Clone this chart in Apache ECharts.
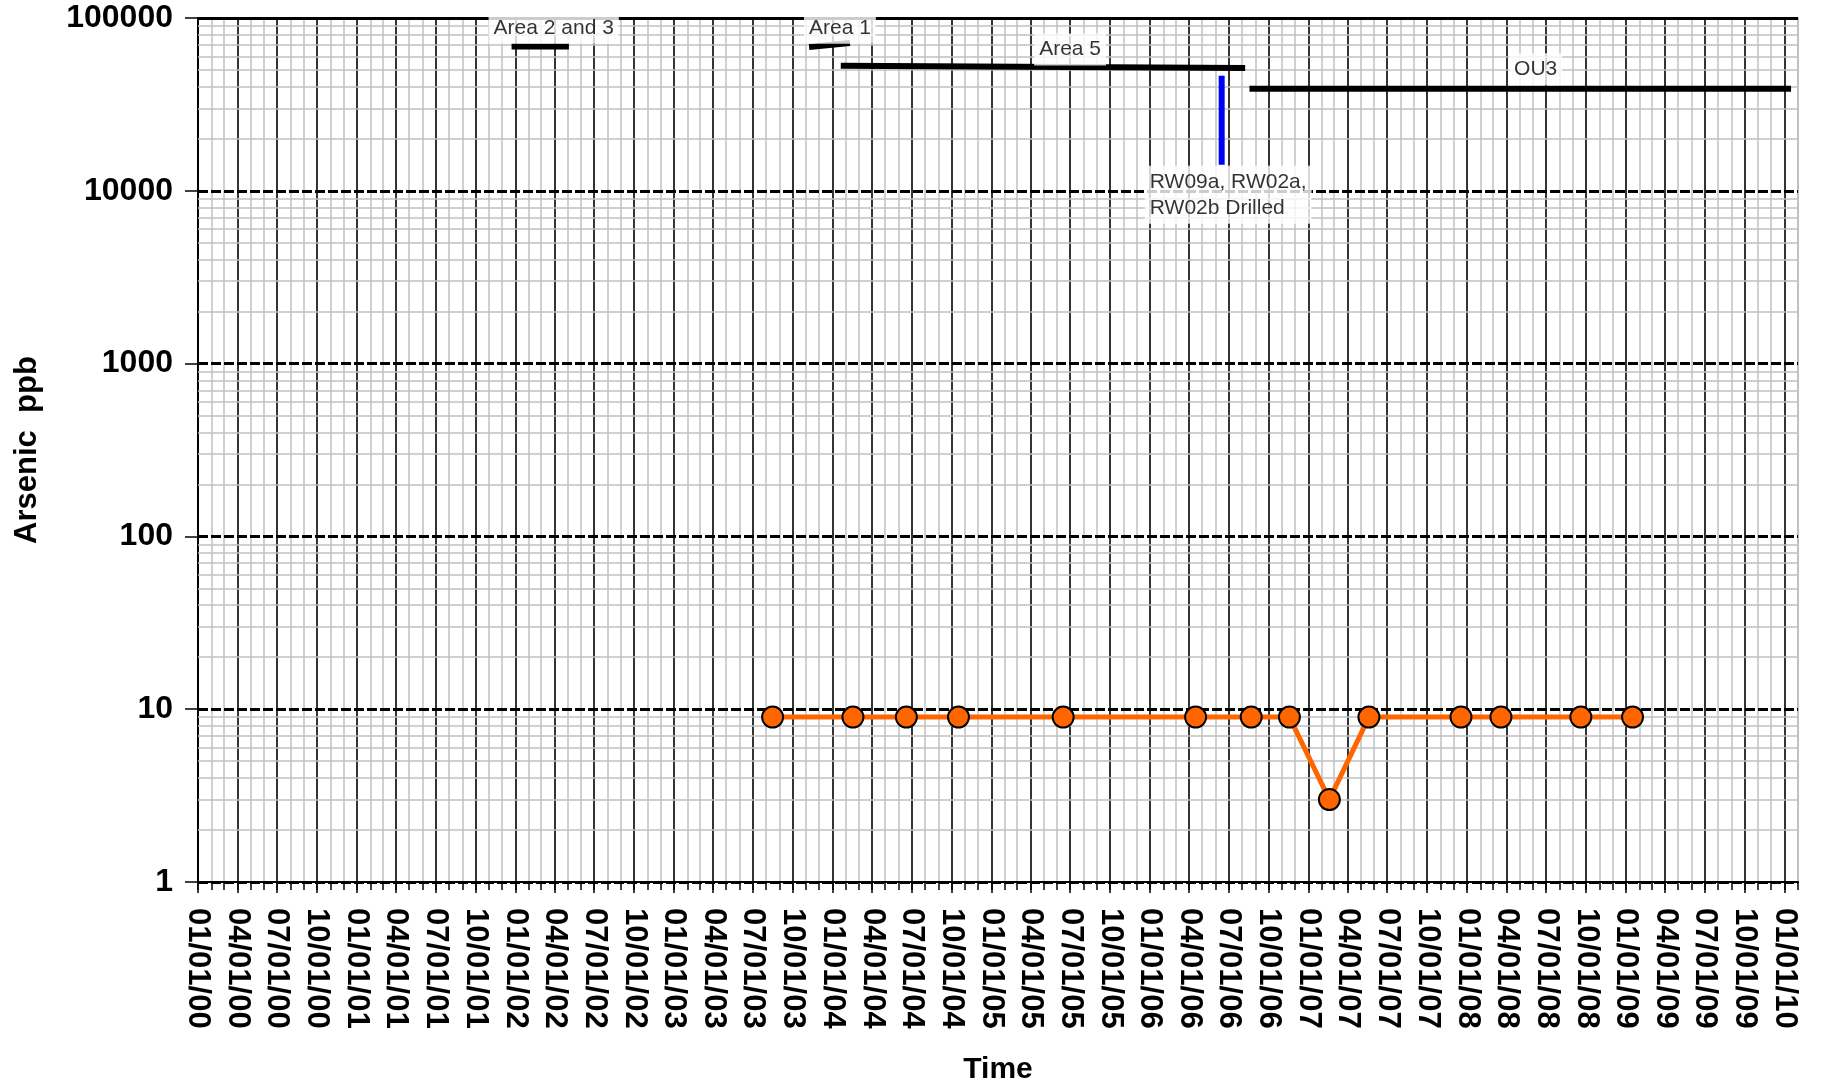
<!DOCTYPE html>
<html><head><meta charset="utf-8">
<script src="https://cdn.jsdelivr.net/npm/echarts@6/dist/echarts.min.js"></script>
<style>html,body{margin:0;padding:0;background:#fff}#c{width:1823px;height:1084px}</style>
</head><body><div id="c"></div>
<script>
// ---- data ----
const sampleDates = ['2003-08-16','2004-02-17','2004-06-19','2004-10-17','2005-06-15','2006-04-16','2006-08-22','2006-11-18','2007-02-18','2007-05-20','2007-12-18','2008-03-19','2008-09-19','2009-01-16'];
const arsenicPpb  = [9,9,9,9,9,9,9,9,3,9,9,9,9,9];

const yTickValues = [1,10,100,1000,10000,100000];
const minorMultipliers = [2,3,4,5,6,7,8,9];

const area23Line  = [['2001-12-23',68500],['2002-05-04',68500]];
const area1Line   = [['2003-11-08',67950],['2004-02-10',71630]];
const area5Line   = [['2004-01-20',52920],['2006-08-08',51340]];
const ou3Line     = [['2006-08-18',38950],['2010-01-16',38950]];
const drilledLine = [['2006-06-15',46340],['2006-06-15',14150]];

const annotationTexts   = ['Area 2 and 3','Area 1','Area 5','OU3','RW09a, RW02a,\nRW02b Drilled'];
const annotationAnchors = [['2002-03-30',87860],['2004-01-18',87860],['2005-07-01',65780],['2008-06-07',50590],['2005-12-20',9490]];
const annotationAlign   = ['center','center','center','center','left'];

const xMin = '2000-01-01', xMax = '2010-02-01';
// ---------------

const FONT = 'Liberation Sans, Arial, sans-serif';
const DAY = 86400000;
const pad = n => (n < 10 ? '0' : '') + n;
const fmtDate = v => { const d = new Date(v); return pad(d.getMonth()+1) + '/' + pad(d.getDate()) + '/' + pad(d.getFullYear() % 100); };

const minorGrid = [];
yTickValues.slice(0, -1).forEach(t => minorMultipliers.forEach(m => minorGrid.push({ yAxis: t * m })));

function segment(name, data, color, width) {
  return { type: 'line', name, data, symbol: 'none', silent: true, z: 10,
    lineStyle: { color, width, cap: 'butt' }, animation: false };
}

const chart = echarts.init(document.getElementById('c'), null, { renderer: 'canvas' });
chart.setOption({
  animation: false,
  backgroundColor: '#fff',
  grid: { left: 198, top: 18, right: 25, bottom: 202, show: true, borderColor: '#c0c0c0', borderWidth: 1.5, outerBoundsMode: 'none', containLabel: false },
  xAxis: [{
    // quarterly axis: labels, major ticks, black gridlines
    type: 'time', min: xMin, max: xMax, splitNumber: 40, position: 'bottom', z: 3,
    minInterval: 80 * DAY, maxInterval: 95 * DAY,
    axisLine: { lineStyle: { color: '#000', width: 2 } },
    axisTick: { show: true, length: 11, lineStyle: { color: '#000', width: 1.5 } },
    splitLine: { show: true, showMaxLine: false, lineStyle: { color: '#000', width: 1.5 } },
    axisLabel: { rotate: -90, margin: 26, fontSize: 31, fontWeight: 'bold', color: '#000', fontFamily: FONT,
      formatter: fmtDate, showMaxLabel: false, hideOverlap: false },
    name: 'Time', nameLocation: 'middle', nameGap: 173,
    nameTextStyle: { fontSize: 30, fontWeight: 'bold', color: '#000', fontFamily: FONT }
  }, {
    // monthly axis: minor ticks and gray gridlines
    type: 'time', min: xMin, max: xMax, splitNumber: 121, position: 'bottom', offset: 0, z: 1,
    minInterval: 27 * DAY, maxInterval: 32 * DAY,
    axisLine: { show: false },
    axisTick: { show: true, length: 8, lineStyle: { color: '#000', width: 1.5 } },
    splitLine: { show: true, lineStyle: { color: '#c0c0c0', width: 1.5 } },
    axisLabel: { show: false }
  }],
  yAxis: {
    type: 'log', logBase: 10, min: 1, max: 100000, z: 4,
    axisLine: { show: true, lineStyle: { color: '#000', width: 2 } },
    axisTick: { show: true, length: 13, lineStyle: { color: '#000', width: 1.5 } },
    splitLine: { show: true, lineStyle: { color: '#000', width: 3, type: [10, 3] } },
    axisLabel: { margin: 25, fontSize: 32, fontWeight: 'bold', color: '#000', fontFamily: FONT,
      formatter: v => String(Math.round(v)) },
    name: 'Arsenic  ppb', nameLocation: 'middle', nameRotate: 90, nameGap: 155,
    nameTextStyle: { fontSize: 31, fontWeight: 'bold', color: '#000', fontFamily: FONT }
  },
  series: [
    { type: 'line', name: 'minorGrid', data: [], z: 0, silent: true,
      markLine: { silent: true, symbol: ['none','none'], label: { show: false },
        lineStyle: { color: '#c0c0c0', width: 1.5, type: 'solid' }, data: minorGrid, animation: false } },
    segment('Area 2 and 3', area23Line, '#000', 6),
    segment('Area 1', area1Line, '#000', 6),
    segment('Area 5', area5Line, '#000', 6),
    segment('OU3', ou3Line, '#000', 6),
    segment('Drilled', drilledLine, '#0000ff', 6),
    { type: 'line', name: 'Arsenic', z: 11,
      data: sampleDates.map((d, i) => [d, arsenicPpb[i]]),
      symbol: 'circle', symbolSize: 21,
      itemStyle: { color: '#ff6600', borderColor: '#000', borderWidth: 2 },
      lineStyle: { color: '#ff6600', width: 5 },
      markLine: { silent: true, symbol: ['none','none'], label: { show: false },
        lineStyle: { color: '#000', width: 3, type: 'solid' }, data: [{ yAxis: 100000 }], animation: false } },
    { type: 'scatter', name: 'labels', z: 12, silent: true, symbolSize: 1,
      itemStyle: { color: 'rgba(0,0,0,0)' },
      data: annotationAnchors.map((p, i) => ({ value: p, name: annotationTexts[i],
        label: { align: annotationAlign[i] } })),
      label: { show: true, position: 'inside', formatter: p => p.name, color: '#000',
        fontSize: 21, fontFamily: FONT, lineHeight: 26, backgroundColor: '#fff', padding: [3, 5],
        verticalAlign: 'middle' } }
  ]
});
</script></body></html>
